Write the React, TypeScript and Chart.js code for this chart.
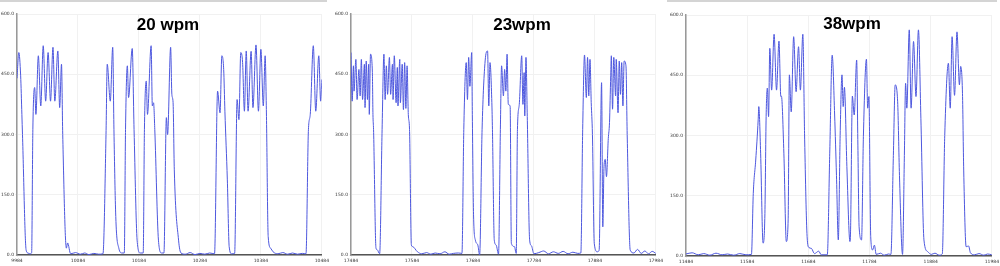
import React, { useEffect, useRef } from "react";
import { Chart, registerables } from "chart.js";

Chart.register(...registerables);

// ---------- tick labels ----------
const ticks20 = [9984, 10084, 10184, 10284, 10384, 10484];
const ticks23 = [17484, 17584, 17684, 17784, 17884, 17984];
const ticks38 = [11484, 11584, 11684, 11784, 11884, 11984];
const yTicks = [0, 150, 300, 450, 600];

// ---------- 20 wpm ----------
const x20 = [
  9984, 9987, 9990, 9992, 9993, 9999, 10002, 10005, 10008, 10010, 10013, 10015, 10019, 10023, 10027, 10031,
  10035, 10039, 10043, 10046, 10051, 10054, 10057, 10059, 10065, 10067, 10072, 10080, 10088, 10095, 10102,
  10110, 10118, 10125, 10130, 10132, 10137, 10141, 10143, 10146, 10151, 10156, 10160, 10162, 10165, 10167,
  10173, 10176, 10181, 10186, 10191, 10193, 10196, 10198, 10204, 10206, 10208, 10210, 10216, 10221, 10225,
  10229, 10231, 10236, 10238, 10240, 10242, 10249, 10253, 10260, 10268, 10276, 10284, 10292, 10300, 10308,
  10313, 10317, 10320, 10323, 10325, 10329, 10332, 10336, 10341, 10345, 10348, 10351, 10354, 10357, 10360,
  10363, 10368, 10371, 10376, 10380, 10384, 10388, 10391, 10393, 10396, 10400, 10404, 10412, 10420, 10428,
  10436, 10444, 10452, 10458, 10462, 10465, 10470, 10474, 10479, 10482, 10484,
];
const y20 = [
  440, 504, 446, 350, 300, 12, 5, 3, 5, 312, 417, 350, 496, 371, 521, 383,
  504, 383, 517, 383, 508, 367, 475, 300, 17, 30, 3, 6, 2, 5, 1,
  4, 2, 3, 300, 475, 383, 517, 312, 96, 17, 5, 5, 312, 471, 392,
  514, 312, 37, 5, 5, 312, 433, 350, 521, 371, 379, 312, 37, 5, 5,
  342, 300, 517, 400, 380, 212, 37, 5, 2, 6, 1, 4, 2, 5, 3,
  408, 354, 496, 462, 358, 187, 21, 3, 4, 387, 337, 504, 479, 358, 508,
  358, 507, 367, 523, 358, 512, 371, 496, 362, 46, 17, 8, 3, 6, 2,
  5, 2, 4, 3, 312, 350, 521, 358, 496, 383, 437,
];

// ---------- 23 wpm ----------
const x23 = [
  17484, 17486, 17488, 17489, 17492, 17494, 17497, 17499, 17501, 17503, 17506, 17507, 17509, 17511, 17513,
  17514, 17516, 17519, 17520, 17521, 17525, 17527, 17531, 17535, 17538, 17540, 17542, 17544, 17547, 17549,
  17552, 17553, 17555, 17558, 17560, 17561, 17564, 17565, 17568, 17570, 17572, 17574, 17576, 17578, 17580,
  17583, 17585, 17593, 17600, 17608, 17615, 17622, 17630, 17638, 17645, 17652, 17660, 17666, 17669, 17673,
  17675, 17677, 17679, 17682, 17683, 17685, 17688, 17692, 17695, 17699, 17704, 17708, 17710, 17712, 17715,
  17716, 17719, 17722, 17726, 17729, 17731, 17734, 17736, 17738, 17740, 17742, 17745, 17747, 17752, 17755,
  17757, 17760, 17764, 17766, 17768, 17769, 17771, 17773, 17777, 17780, 17784, 17792, 17800, 17808, 17816,
  17824, 17832, 17840, 17848, 17856, 17861, 17864, 17867, 17870, 17872, 17874, 17876, 17878, 17880, 17883,
  17888, 17891, 17895, 17897, 17899, 17901, 17903, 17906, 17908, 17910, 17911, 17913, 17915, 17918, 17919,
  17922, 17924, 17926, 17928, 17930, 17932, 17935, 17937, 17942, 17948, 17954, 17960, 17966, 17972, 17978,
  17984,
];
const y23 = [
  504, 383, 471, 408, 487, 387, 462, 396, 487, 387, 475, 367, 483, 387, 475,
  350, 500, 458, 350, 312, 17, 13, 3, 312, 500, 387, 471, 400, 492, 400,
  475, 387, 496, 379, 467, 371, 487, 379, 475, 362, 479, 365, 471, 350, 312,
  25, 21, 8, 3, 6, 2, 5, 3, 8, 2, 4, 5, 4, 312, 479,
  387, 492, 420, 504, 350, 100, 37, 25, 0, 312, 483, 508, 371, 479, 380,
  312, 37, 25, 2, 312, 471, 396, 462, 408, 500, 375, 371, 29, 21, 4,
  312, 375, 496, 375, 454, 346, 492, 354, 37, 23, 3, 6, 10, 3, 8,
  4, 9, 3, 7, 4, 5, 312, 498, 392, 492, 396, 487, 380, 300, 29,
  8, 12, 429, 70, 220, 238, 195, 290, 330, 446, 496, 363, 492, 396, 487,
  354, 483, 400, 479, 371, 483, 471, 300, 12, 5, 14, 4, 10, 3, 9,
  4,
];

// ---------- 38 wpm ----------
const x38 = [
  11484, 11494, 11504, 11513, 11523, 11533, 11543, 11552, 11562, 11572, 11582, 11591, 11594, 11598, 11602,
  11603, 11606, 11610, 11613, 11615, 11617, 11619, 11621, 11624, 11628, 11632, 11636, 11639, 11640, 11644,
  11648, 11651, 11653, 11656, 11660, 11664, 11668, 11671, 11675, 11678, 11682, 11685, 11689, 11694, 11701,
  11705, 11715, 11719, 11723, 11727, 11730, 11733, 11736, 11739, 11741, 11743, 11747, 11752, 11753, 11756,
  11759, 11763, 11765, 11767, 11771, 11774, 11779, 11781, 11783, 11786, 11789, 11792, 11795, 11802, 11808,
  11815, 11819, 11823, 11826, 11830, 11833, 11838, 11841, 11843, 11845, 11849, 11852, 11856, 11860, 11864,
  11868, 11873, 11879, 11885, 11891, 11898, 11903, 11907, 11913, 11916, 11919, 11923, 11927, 11931, 11933,
  11936, 11938, 11942, 11946, 11949, 11956, 11963, 11971, 11977, 11984,
];
const y38 = [
  5, 8, 3, 6, 2, 7, 3, 5, 2, 6, 3, 4, 156, 239, 339,
  372, 256, 32, 106, 347, 418, 347, 517, 413, 552, 413, 535, 397, 398, 256,
  36, 90, 451, 359, 546, 409, 521, 413, 552, 289, 48, 21, 19, 6, 12,
  3, 3, 256, 500, 351, 200, 40, 300, 451, 372, 420, 223, 36, 60, 398,
  351, 488, 276, 73, 40, 297, 490, 368, 397, 48, 15, 27, 4, 7, 2,
  5, 4, 250, 426, 384, 200, 4, 250, 430, 368, 563, 368, 534, 397, 563,
  343, 40, 11, 4, 7, 2, 5, 300, 480, 368, 546, 400, 558, 426, 472,
  405, 214, 23, 25, 8, 3, 6, 2, 5, 3,
];

type PanelDef = {
  title: string;
  xs: number[];
  ys: number[];
  ticks: number[];
  left: number;
  width: number;
  padTop: number;
  padRight: number;
  yAxisW: number;
  xAxisH: number;
  titleCx: number;
  titleTop: number;
  topBar: boolean;
};

const panels: PanelDef[] = [
  { title: "20 wpm", xs: x20, ys: y20, ticks: ticks20, left: 0, width: 330, padTop: 14, padRight: 5, yAxisW: 17, xAxisH: 11, titleCx: 168, titleTop: 15, topBar: true },
  { title: "23wpm", xs: x23, ys: y23, ticks: ticks23, left: 334, width: 330, padTop: 14, padRight: 5, yAxisW: 17, xAxisH: 11, titleCx: 522, titleTop: 15, topBar: false },
  { title: "38wpm", xs: x38, ys: y38, ticks: ticks38, left: 667, width: 333, padTop: 15, padRight: 7, yAxisW: 19, xAxisH: 10, titleCx: 852, titleTop: 14, topBar: true },
];

function makeChart(canvas: HTMLCanvasElement, p: PanelDef) {
  const data = p.xs.map((x, i) => ({ x, y: p.ys[i] }));
  return new Chart(canvas, {
    type: "line",
    data: {
      datasets: [
        {
          data,
          borderColor: "rgb(78,88,222)",
          borderWidth: 1,
          pointRadius: 0,
          cubicInterpolationMode: "monotone",
          fill: false,
        },
      ],
    },
    options: {
      responsive: false,
      animation: false,
      events: [],
      layout: { autoPadding: false, padding: { top: p.padTop, right: p.padRight, left: 0, bottom: 0 } },
      plugins: { legend: { display: false }, tooltip: { enabled: false }, title: { display: false } },
      scales: {
        x: {
          type: "linear",
          min: p.ticks[0],
          max: p.ticks[p.ticks.length - 1],
          afterBuildTicks: (scale: any) => {
            scale.ticks = p.ticks.map((v) => ({ value: v }));
          },
          afterFit: (scale: any) => {
            scale.height = p.xAxisH;
          },
          ticks: {
            font: { size: 4.5, family: "DejaVu Sans" },
            color: "#333",
            padding: 1,
            maxRotation: 0,
            autoSkip: false,
            callback: (v: any) => String(v),
          },
          grid: { color: "#f1f1f1", lineWidth: 1, tickLength: 2, drawTicks: true },
          border: { color: "#555", width: 1.5 },
        },
        y: {
          type: "linear",
          min: 0,
          max: 600,
          afterBuildTicks: (scale: any) => {
            scale.ticks = yTicks.map((v) => ({ value: v }));
          },
          afterFit: (scale: any) => {
            scale.width = p.yAxisW;
          },
          ticks: {
            font: { size: 4.5, family: "DejaVu Sans" },
            color: "#333",
            padding: 1,
            callback: (v: any) => Number(v).toFixed(1),
          },
          grid: { color: "#f1f1f1", lineWidth: 1, tickLength: 2 },
          border: { color: "#999", width: 1.5 },
        },
      },
    },
  });
}

export default function App() {
  const r0 = useRef<HTMLCanvasElement>(null);
  const r1 = useRef<HTMLCanvasElement>(null);
  const r2 = useRef<HTMLCanvasElement>(null);
  const refs = [r0, r1, r2];

  useEffect(() => {
    const charts = panels.map((p, i) => makeChart(refs[i].current as HTMLCanvasElement, p));
    return () => charts.forEach((c) => c.destroy());
  }, []);

  return (
    <div style={{ position: "absolute", left: 0, top: 0, width: 1000, height: 266, background: "#fff", overflow: "hidden" }}>
      {panels.map((p, i) => (
        <div key={i} style={{ position: "absolute", left: p.left, top: 0, width: p.width, height: 266 }}>
          {p.topBar && (
            <div style={{ position: "absolute", left: 0, top: 0, width: p.width - 3, height: 2, background: "#d4d4d4" }} />
          )}
          <canvas ref={refs[i]} width={p.width} height={266} style={{ width: p.width, height: 266, display: "block" }} />
          <div
            style={{
              position: "absolute",
              left: p.titleCx - p.left - 100,
              top: p.titleTop,
              width: 200,
              textAlign: "center",
              fontFamily: "'Liberation Sans', Arial, sans-serif",
              fontWeight: "bold",
              fontSize: 17,
              lineHeight: "19px",
              color: "#000",
            }}
          >
            {p.title}
          </div>
        </div>
      ))}
    </div>
  );
}
